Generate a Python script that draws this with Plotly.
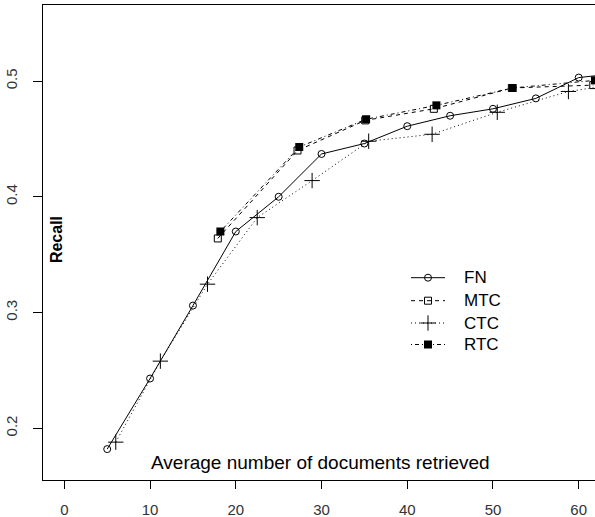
import plotly.graph_objects as go

# Data
fn_x = [5, 10, 15, 20, 25, 30, 35, 40, 45, 50, 55, 60, 65]
fn_y = [0.182, 0.243, 0.306, 0.370, 0.400, 0.437, 0.446, 0.461, 0.470, 0.476, 0.485, 0.503, 0.507]

mtc_x = [17.9, 27.2, 35.1, 43.1, 52.2, 61.7]
mtc_y = [0.364, 0.440, 0.466, 0.476, 0.494, 0.4965]

ctc_x = [6.0, 11.2, 16.7, 22.5, 28.9, 35.5, 42.9, 50.5, 58.8, 67.0]
ctc_y = [0.188, 0.258, 0.3245, 0.382, 0.414, 0.448, 0.454, 0.473, 0.491, 0.500]

rtc_x = [18.2, 27.4, 35.2, 43.4, 52.3, 61.9]
rtc_y = [0.370, 0.443, 0.467, 0.479, 0.494, 0.5006]

series_names = ["FN", "MTC", "CTC", "RTC"]
x_ticks = [0, 10, 20, 30, 40, 50, 60]
y_ticks = [0.2, 0.3, 0.4, 0.5]

FONT = "Arial, Liberation Sans, sans-serif"

styles = {
    "FN": dict(line=dict(color="black", width=1),
               marker=dict(symbol="circle-open", size=7, color="black", line=dict(width=1, color="black"))),
    "MTC": dict(line=dict(color="black", width=1, dash="4px,4px"),
                marker=dict(symbol="square-open", size=7, color="black", line=dict(width=1, color="black"))),
    "CTC": dict(line=dict(color="black", width=1, dash="1px,3px"),
                marker=dict(symbol="cross-thin-open", size=11, color="black", line=dict(width=1, color="black"))),
    "RTC": dict(line=dict(color="black", width=1, dash="1px,3px,4px,3px"),
                marker=dict(symbol="square", size=8, color="black", line=dict(width=0))),
}
data = {"FN": (fn_x, fn_y), "MTC": (mtc_x, mtc_y), "CTC": (ctc_x, ctc_y), "RTC": (rtc_x, rtc_y)}

fig = go.Figure()
for nm in series_names:
    xs, ys = data[nm]
    fig.add_trace(go.Scatter(x=xs, y=ys, name=nm, mode="lines+markers", showlegend=False, **styles[nm]))

# Custom legend drawn on an overlay axis measured in figure pixels
leg_rows = [277.7, 300.7, 323.0, 344.5]
leg_x0, leg_xm, leg_x1, leg_tx = 411, 428, 445, 462
for nm, ry in zip(series_names, leg_rows):
    st = styles[nm]
    fig.add_trace(go.Scatter(x=[leg_x0, leg_x1], y=[ry, ry], mode="lines", line=st["line"],
                             xaxis="x2", yaxis="y2", showlegend=False, hoverinfo="skip"))
    fig.add_trace(go.Scatter(x=[leg_xm], y=[ry], mode="markers", marker=st["marker"],
                             xaxis="x2", yaxis="y2", showlegend=False, hoverinfo="skip"))
    fig.add_annotation(x=leg_tx, y=ry, xref="x2", yref="y2", text=nm, xanchor="left", yanchor="middle",
                       showarrow=False, font=dict(family=FONT, size=17, color="black"))

fig.add_annotation(x=29.9, y=0.170, xref="x", yref="y", text="Average number of documents retrieved",
                   showarrow=False, font=dict(family=FONT, size=19, color="black"))
fig.add_annotation(x=-0.97, y=0.3626, xref="x", yref="y", text="<b>Recall</b>", textangle=-90,
                   showarrow=False, font=dict(family=FONT, size=16, color="black"))

fig.update_layout(
    width=595, height=517,
    margin=dict(l=43, r=0, t=5, b=37, autoexpand=False),
    paper_bgcolor="white", plot_bgcolor="white",
    font=dict(family=FONT, color="black"),
    showlegend=False,
    xaxis=dict(range=[-2.49, 61.9], tickvals=x_ticks, ticktext=[str(v) for v in x_ticks],
               showgrid=False, zeroline=False, showline=True, linecolor="black", linewidth=1,
               mirror=True, ticks="outside", ticklen=8, tickcolor="black", automargin=False,
               tickfont=dict(family=FONT, size=15, color="#333"), ticklabelstandoff=8),
    yaxis=dict(range=[0.1553, 0.5657], tickvals=y_ticks, ticktext=[str(v) for v in y_ticks],
               showgrid=False, zeroline=False, showline=True, linecolor="black", linewidth=1,
               mirror=False, ticks="outside", ticklen=9, tickcolor="black", tickangle=-90, automargin=False,
               tickfont=dict(family=FONT, size=15, color="#333"), ticklabelstandoff=10),
    xaxis2=dict(range=[43, 595], overlaying="x", visible=False, fixedrange=True),
    yaxis2=dict(range=[480, 5], overlaying="y", visible=False, fixedrange=True),
)

fig.write_html("out.html", config={"displayModeBar": False},
               post_script="document.body.style.margin='0';document.body.style.overflow='hidden';")
